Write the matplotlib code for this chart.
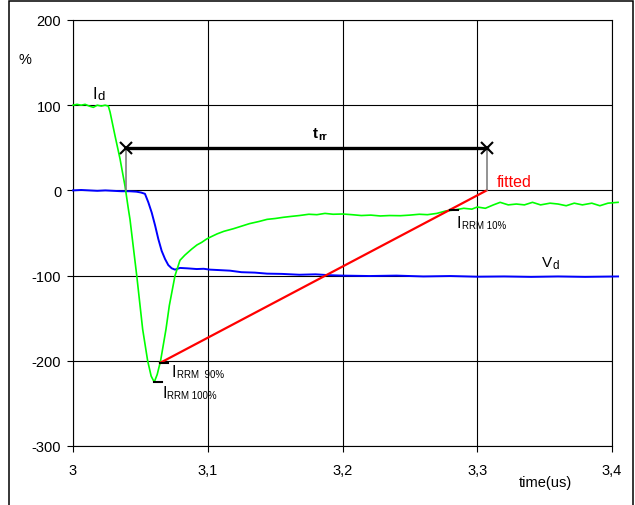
import matplotlib
matplotlib.use("Agg")
import matplotlib.pyplot as plt
from matplotlib.patches import Rectangle

plt.rcParams["font.family"] = ["Liberation Sans", "DejaVu Sans"]
plt.rcParams["axes.unicode_minus"] = False

# Diode current I_d (%) versus time (us)
id_t = [3.000, 3.003, 3.006, 3.009, 3.012, 3.0151, 3.018, 3.021, 3.0238, 3.0262,
        3.0275, 3.0312, 3.0349, 3.0386, 3.0411, 3.0423, 3.0473, 3.0517, 3.0554, 3.058,
        3.0603, 3.0625, 3.065, 3.069, 3.0715, 3.0757, 3.0794, 3.083, 3.088, 3.092,
        3.0955, 3.0992, 3.103, 3.107, 3.112, 3.119, 3.125, 3.131, 3.138, 3.144,
        3.150, 3.156, 3.162, 3.168, 3.175, 3.181, 3.187, 3.193, 3.200, 3.207,
        3.214, 3.221, 3.228, 3.235, 3.243, 3.250, 3.257, 3.263, 3.270, 3.277,
        3.283, 3.290, 3.296, 3.300, 3.306, 3.312, 3.317, 3.323, 3.329, 3.335,
        3.341, 3.347, 3.354, 3.360, 3.366, 3.372, 3.378, 3.385, 3.391, 3.397, 3.4045]
id_v = [100, 101, 100, 101, 99, 97.5, 100, 99, 100, 99,
        92, 64, 37, 5, -22, -34, -100, -163, -200, -218,
        -225, -216, -200, -163, -135, -100, -82, -76, -69, -64,
        -61, -57, -54, -51, -48, -45, -42, -39, -36.5, -34,
        -33, -31.6, -30.5, -29.5, -28, -28.5, -27, -28, -27.7, -28.5,
        -29.5, -29, -30, -29.5, -29.7, -29, -28, -28.5, -27, -24,
        -23, -21, -22, -19.5, -21, -17, -14, -17, -16, -17,
        -14, -17, -15, -16, -18, -15, -17, -15, -18, -15, -14]

# Diode voltage V_d (%) versus time (us)
vd_t = [3.000, 3.006, 3.012, 3.018, 3.024, 3.030, 3.036, 3.042, 3.047, 3.0505,
        3.0534, 3.0559, 3.0584, 3.0609, 3.0633, 3.0658, 3.0683, 3.0707, 3.0732, 3.0757,
        3.0794, 3.085, 3.0918, 3.097, 3.1017, 3.108, 3.1165, 3.125, 3.135, 3.144,
        3.155, 3.168, 3.180, 3.190, 3.200, 3.220, 3.240, 3.260, 3.280, 3.300,
        3.320, 3.340, 3.360, 3.380, 3.4045]
vd_v = [0, 0.5, 0, -0.5, 0, -0.5, -1, -1, -1.5, -2.5,
        -4, -14, -26, -41, -57, -71, -80.5, -87.6, -91.4, -93,
        -91, -91.5, -92.3, -92, -93, -93.5, -94.2, -96, -96.5, -97.7,
        -98, -99, -98.5, -99.5, -100, -100.5, -100, -101, -100.5, -101.3,
        -101, -101.5, -101, -101.5, -101]

# Reverse recovery construction
irrm = -225.0
t_irrm = [3.0603, 3.0663]
t_irrm90 = [3.0646, 3.0707]
t_irrm10 = [3.2798, 3.2857]
fit_t = [3.0646, 3.307]
fit_v = [0.9 * irrm, 0.0]
trr_t = [3.039, 3.307]
trr_level = 50

yticks = [200, 100, 0, -100, -200, -300]
ytick_labels = ["200", "100", "0", "-100", "-200", "-300"]
xticks = [3.0, 3.1, 3.2, 3.3, 3.4]
xtick_labels = ["3", "3,1", "3,2", "3,3", "3,4"]

fig = plt.figure(figsize=(6.35, 5.06), dpi=100)
ax = fig.add_axes([73 / 635, 1 - 447 / 506, (612 - 73) / 635, (447 - 21) / 506])
ax.set_xlim(3.0, 3.4)
ax.set_ylim(-300, 200)

ax.set_yticks(yticks)
ax.set_yticklabels(ytick_labels, fontsize=10.5)
ax.set_xticks(xticks)
ax.set_xticklabels(xtick_labels, fontsize=10.5)
ax.tick_params(axis="y", direction="out", length=4, width=0.8, pad=4.5)
ax.tick_params(axis="x", direction="out", length=4, width=0.8, pad=8)
ax.grid(True, color="black", linewidth=0.8)
ax.set_axisbelow(True)
for s in ax.spines.values():
    s.set_linewidth(0.8)
    s.set_color("black")

ax.plot(vd_t, vd_v, color="#0000ff", lw=1.4, clip_on=False, zorder=3)
ax.plot(id_t, id_v, color="#00ff00", lw=1.2, clip_on=False, zorder=4)
ax.plot(fit_t, fit_v, color="#ff0000", lw=1.6, zorder=5)

# t_rr bar with end markers and drop lines to zero
for t in trr_t:
    ax.plot([t, t], [trr_level, 0], color="#808080", lw=1.2, zorder=5)
ax.plot(trr_t, [trr_level, trr_level], color="black", lw=2.4, zorder=6)
ax.plot(trr_t, [trr_level, trr_level], ls="none", marker="x", ms=9,
        mew=1.5, color="black", zorder=7)

# I_RRM level marks
ax.plot(t_irrm, [irrm, irrm], color="black", lw=1.5, zorder=6)
ax.plot(t_irrm90, [0.9 * irrm, 0.9 * irrm], color="black", lw=1.5, zorder=6)
ax.plot(t_irrm10, [0.1 * irrm, 0.1 * irrm], color="black", lw=1.5, zorder=6)


def sub_label(x, y, main, sub, fs_main, fs_sub, weight="normal", drop=1.2):
    """Main symbol on its baseline at (x, y) followed by a lowered subscript."""
    t = ax.text(x, y, main, fontsize=fs_main, fontweight=weight, va="baseline",
                ha="left", clip_on=False, zorder=8)
    ax.annotate(sub, xy=(1, 0), xycoords=t,
                xytext=(0.4, 0.212 * fs_main - drop), textcoords="offset points",
                fontsize=fs_sub, fontweight=weight, va="baseline", ha="left",
                annotation_clip=False, zorder=8)


sub_label(3.0145, 108, "I", "d", 12, 9.5, drop=0.6)
sub_label(3.178, 63, "t", "rr", 11, 8, weight="bold", drop=1.8)
sub_label(3.2846, -43.3, "I", "RRM 10%", 11.5, 7, drop=0.8)
sub_label(3.3478, -89, "V", "d", 11, 8.5, drop=1.4)
sub_label(3.0732, -218, "I", "RRM  90%", 11.5, 7, drop=0.8)
sub_label(3.0663, -243, "I", "RRM 100%", 11.5, 7, drop=0.8)

ax.text(3.3147, 5.5, "fitted", color="#ff0000", fontsize=11.5, va="baseline",
        ha="left", zorder=8)
ax.text(2.9644, 154, "%", fontsize=10.5, ha="center", va="center", clip_on=False)
ax.text(3.3503, -347, "time(us)", fontsize=10.5, ha="center", va="baseline",
        clip_on=False)

# outer frame
fig.patches.append(Rectangle((9 / 635, -0.05), (633 - 9) / 635, 1.05 - 1.5 / 506,
                             transform=fig.transFigure, fill=False,
                             edgecolor="black", lw=1.1))

fig.savefig("out.png", dpi=100)
